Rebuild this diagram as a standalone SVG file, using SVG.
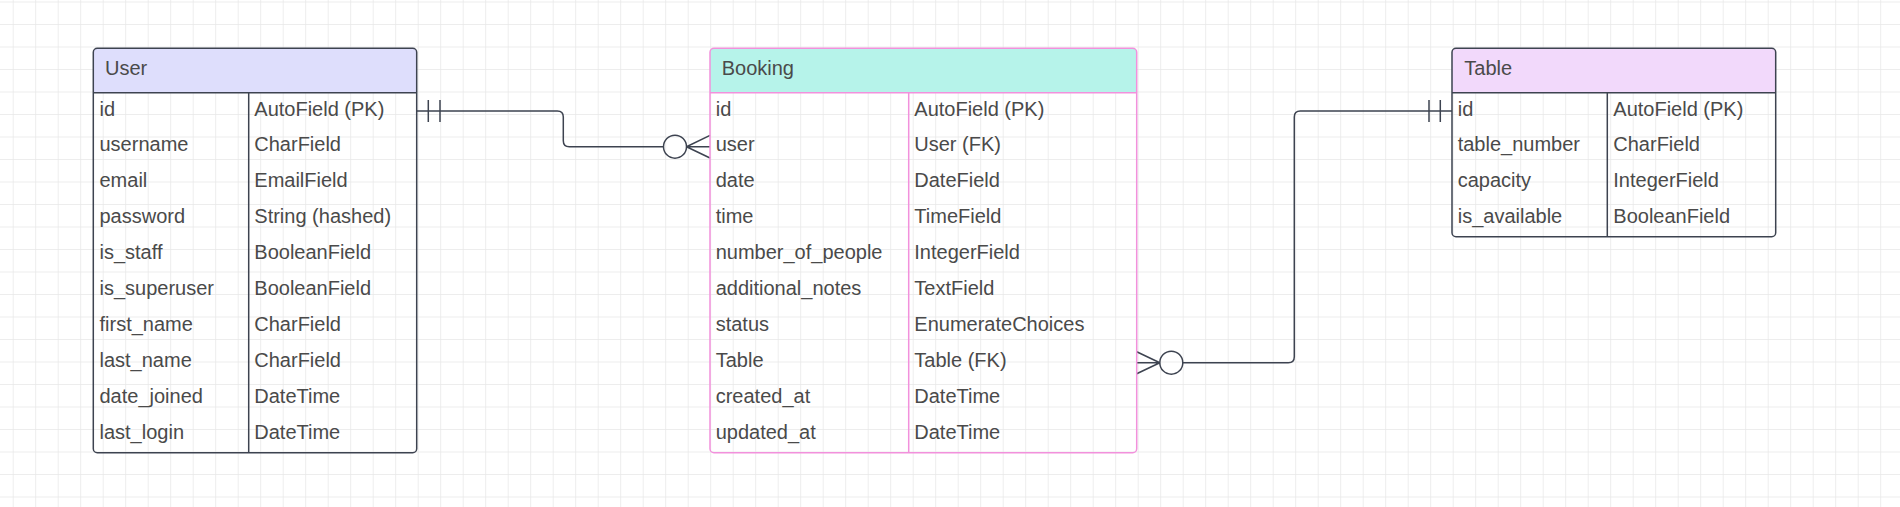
<svg xmlns="http://www.w3.org/2000/svg" width="1900" height="507" viewBox="0 0 1900 507">
<defs>
<pattern id="grid" patternUnits="userSpaceOnUse" x="12.7" y="1.5" width="22.5" height="22.5">
<path d="M0 0H22.5M0 0V22.5" fill="none" stroke="#e8e8e8" stroke-width="1.5"/>
</pattern>
<style>
.t{font-family:"Liberation Sans",Arial,sans-serif;font-size:20px;fill:#4a4a4a}
.box{stroke-width:1.5}
.dk{stroke:#3d4350}
.pk{stroke:#f291dc}
.ln{fill:none;stroke:#3d4350;stroke-width:1.5}
</style>
</defs>
<rect width="1900" height="507" fill="#ffffff"/>
<rect width="1900" height="507" fill="url(#grid)"/>

<g id="connectors">
<path class="ln" d="M416.7 111H557.3Q563.3 111 563.3 117V140.7Q563.3 146.7 569.3 146.7H663.5"/>
<path class="ln" d="M428.3 100V122M440 100V122"/>
<circle class="ln" cx="675" cy="146.7" r="11.5"/>
<path class="ln" d="M686.5 146.7H710M686.5 146.7L710 135.4M686.5 146.7L710 158"/>

<path class="ln" d="M1182.8 362.7H1288.3Q1294.3 362.7 1294.3 356.7V117Q1294.3 111 1300.3 111H1452"/>
<path class="ln" d="M1429 100V122M1440.3 100V122"/>
<circle class="ln" cx="1171.3" cy="362.7" r="11.5"/>
<path class="ln" d="M1159.8 362.7H1136.7M1159.8 362.7L1136.7 351.7M1159.8 362.7L1136.7 373.7"/>
</g>

<g id="user">
<path d="M93.3 92.7V52.3Q93.3 48.3 97.3 48.3H412.7Q416.7 48.3 416.7 52.3V92.7Z" fill="#dedefc"/>
<rect class="box dk" x="93.3" y="48.3" width="323.4" height="404.4" rx="4" fill="none"/>
<path class="box dk" d="M93.3 92.7H416.7M248.7 92.7V452.7" fill="none"/>
<text class="t" x="105" y="75">User</text>
<text class="t" x="99.5" y="115.5">id</text><text class="t" x="254.3" y="115.5">AutoField (PK)</text>
<text class="t" x="99.5" y="151.4">username</text><text class="t" x="254.3" y="151.4">CharField</text>
<text class="t" x="99.5" y="187.3">email</text><text class="t" x="254.3" y="187.3">EmailField</text>
<text class="t" x="99.5" y="223.2">password</text><text class="t" x="254.3" y="223.2">String (hashed)</text>
<text class="t" x="99.5" y="259.1">is_staff</text><text class="t" x="254.3" y="259.1">BooleanField</text>
<text class="t" x="99.5" y="295">is_superuser</text><text class="t" x="254.3" y="295">BooleanField</text>
<text class="t" x="99.5" y="330.9">first_name</text><text class="t" x="254.3" y="330.9">CharField</text>
<text class="t" x="99.5" y="366.8">last_name</text><text class="t" x="254.3" y="366.8">CharField</text>
<text class="t" x="99.5" y="402.7">date_joined</text><text class="t" x="254.3" y="402.7">DateTime</text>
<text class="t" x="99.5" y="438.6">last_login</text><text class="t" x="254.3" y="438.6">DateTime</text>
</g>

<g id="booking">
<path d="M710 92.7V52.3Q710 48.3 714 48.3H1132.7Q1136.7 48.3 1136.7 52.3V92.7Z" fill="#b6f3ea"/>
<rect class="box pk" x="710" y="48.3" width="426.7" height="404.4" rx="4" fill="none"/>
<path class="box pk" d="M710 92.7H1136.7M908.7 92.7V452.7" fill="none"/>
<text class="t" x="721.7" y="75">Booking</text>
<text class="t" x="715.7" y="115.5">id</text><text class="t" x="914.3" y="115.5">AutoField (PK)</text>
<text class="t" x="715.7" y="151.4">user</text><text class="t" x="914.3" y="151.4">User (FK)</text>
<text class="t" x="715.7" y="187.3">date</text><text class="t" x="914.3" y="187.3">DateField</text>
<text class="t" x="715.7" y="223.2">time</text><text class="t" x="914.3" y="223.2">TimeField</text>
<text class="t" x="715.7" y="259.1">number_of_people</text><text class="t" x="914.3" y="259.1">IntegerField</text>
<text class="t" x="715.7" y="295">additional_notes</text><text class="t" x="914.3" y="295">TextField</text>
<text class="t" x="715.7" y="330.9">status</text><text class="t" x="914.3" y="330.9">EnumerateChoices</text>
<text class="t" x="715.7" y="366.8">Table</text><text class="t" x="914.3" y="366.8">Table (FK)</text>
<text class="t" x="715.7" y="402.7">created_at</text><text class="t" x="914.3" y="402.7">DateTime</text>
<text class="t" x="715.7" y="438.6">updated_at</text><text class="t" x="914.3" y="438.6">DateTime</text>
</g>

<g id="table">
<path d="M1452 92.7V52.3Q1452 48.3 1456 48.3H1771.7Q1775.7 48.3 1775.7 52.3V92.7Z" fill="#f2d9fb"/>
<rect class="box dk" x="1452" y="48.3" width="323.7" height="188.4" rx="4" fill="none"/>
<path class="box dk" d="M1452 92.7H1775.7M1607.3 92.7V236.7" fill="none"/>
<text class="t" x="1464.3" y="75">Table</text>
<text class="t" x="1457.7" y="115.5">id</text><text class="t" x="1613.3" y="115.5">AutoField (PK)</text>
<text class="t" x="1457.7" y="151.4">table_number</text><text class="t" x="1613.3" y="151.4">CharField</text>
<text class="t" x="1457.7" y="187.3">capacity</text><text class="t" x="1613.3" y="187.3">IntegerField</text>
<text class="t" x="1457.7" y="223.2">is_available</text><text class="t" x="1613.3" y="223.2">BooleanField</text>
</g>
</svg>
